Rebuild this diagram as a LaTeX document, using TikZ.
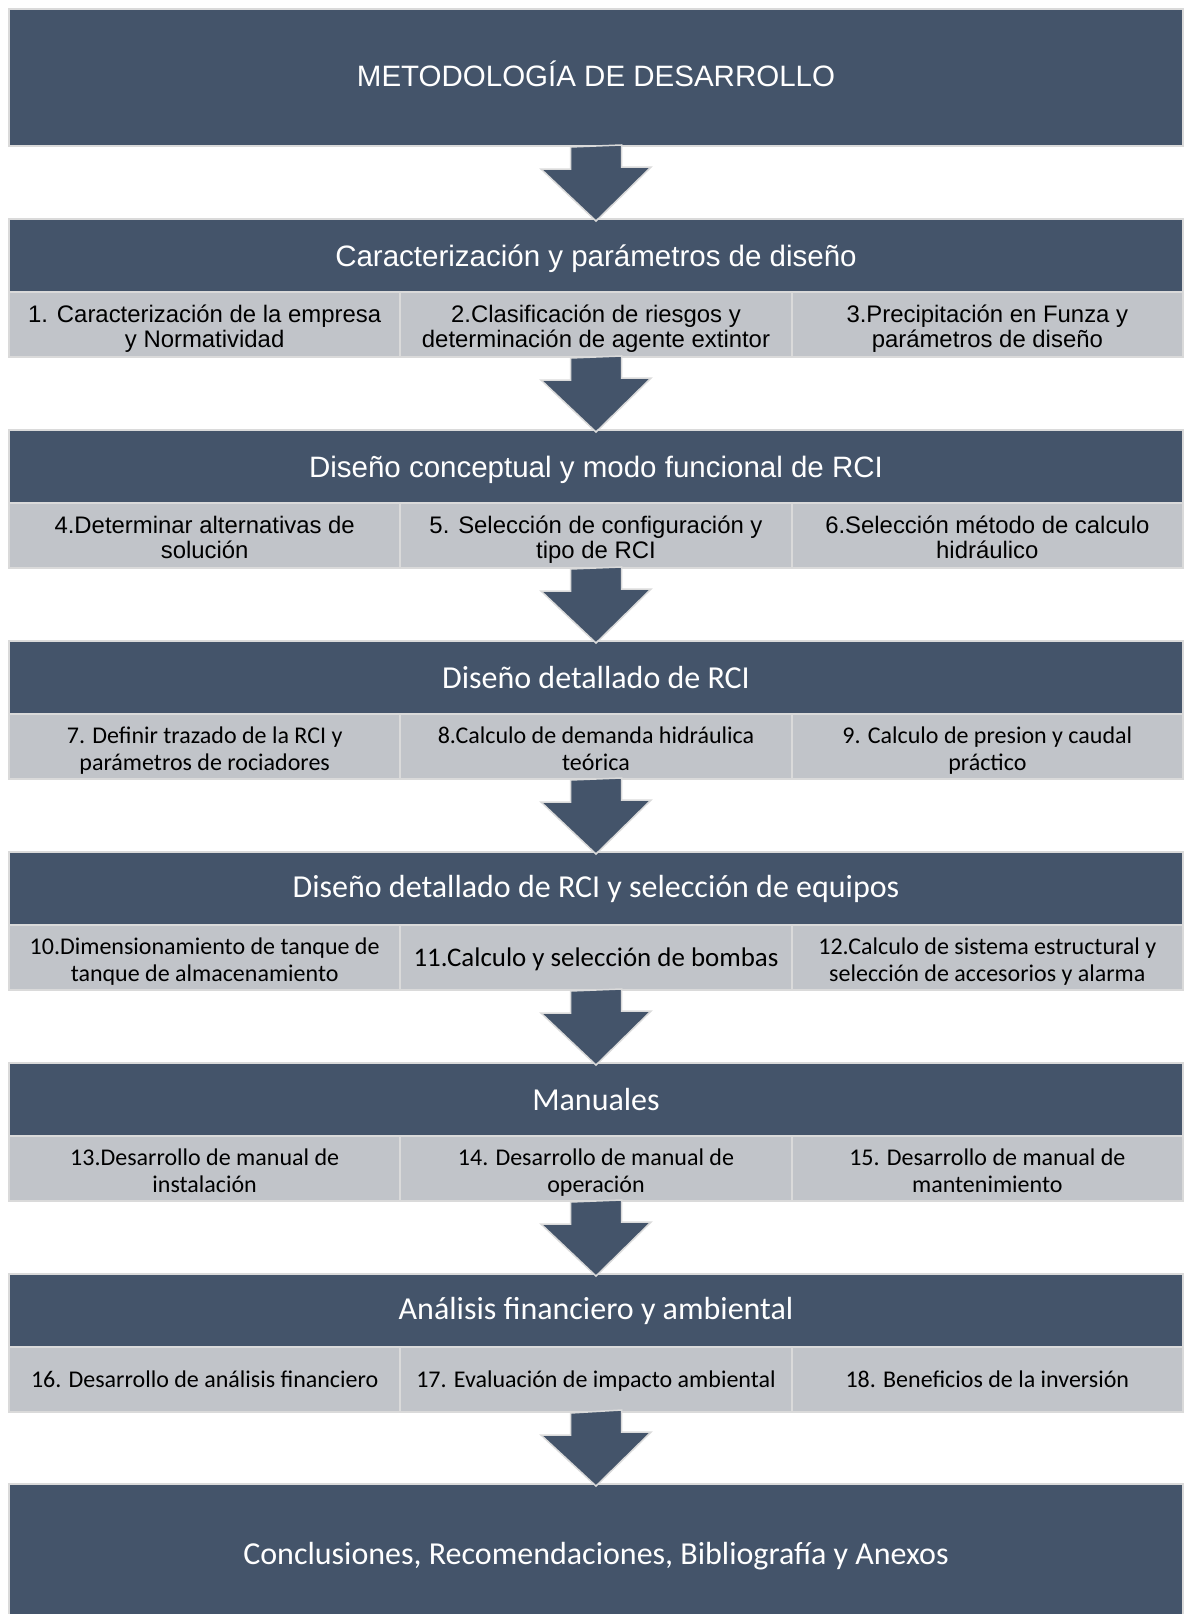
\documentclass[tikz,border=0pt]{standalone}
\usepackage{fontspec}
\setmainfont{Liberation Sans}
\newfontfamily\calibrifont{Carlito}
\usetikzlibrary{calc}
\definecolor{slate}{RGB}{68,84,106}
\definecolor{cellgray}{RGB}{193,196,201}
\definecolor{edgegray}{RGB}{218,218,218}
\newcommand{\lift}{\raisebox{5pt}{\vphantom{Á}}}
\tikzset{
  head/.style={draw=edgegray, line width=2pt, fill=slate, text=white, minimum width=1174pt, minimum height=73pt, inner sep=0pt, align=center},
  bigbox/.style={head, minimum height=137pt},
  cell/.style={draw=edgegray, line width=2pt, fill=cellgray, text=black, minimum width=391.33pt, minimum height=65pt, inner sep=0pt, align=center,
    execute at begin node={\vphantom{Áp}}, execute at end node={\vphantom{Áp}}},
  ahead/.style={font=\fontsize{29.5}{32}\selectfont, execute at begin node={\raisebox{2pt}{\vphantom{Á}}}},
  acell/.style={font=\fontsize{23.9}{25}\selectfont},
  chead/.style={font=\calibrifont\fontsize{32}{35}\selectfont},
  ccell/.style={font=\calibrifont\fontsize{24}{27}\selectfont},
  blockarr/.style={fill=slate, draw=edgegray, line width=1.5pt, line join=miter},
}
\begin{document}
\begin{tikzpicture}[x=1pt,y=-1pt]
\useasboundingbox (0,0) rectangle (1185,1614);
\clip (0,0) rectangle (1185,1614);
% title
\node[bigbox, font=\fontsize{29.5}{32}\selectfont, execute at end node={\rule[-8pt]{0pt}{1pt}}] (top) at (596,77.5) {METODOLOGÍA DE DESARROLLO};
% 1
\node[head, ahead] (s1h) at (596,255.5) {Caracterización y parámetros de diseño};
\node[cell, acell] (s1a) at (204.67,324.5) {\lift 1. Caracterización de la empresa\\y Normatividad};
\node[cell, acell] (s1b) at (596,324.5) {\lift 2.Clasificación de riesgos y\\determinación de agente extintor};
\node[cell, acell] (s1c) at (987.33,324.5) {\lift 3.Precipitación en Funza y\\parámetros de diseño};
% 2
\node[head, ahead] (s2h) at (596,466.5) {Diseño conceptual y modo funcional de RCI};
\node[cell, acell] (s2a) at (204.67,535.5) {\lift 4.Determinar alternativas de\\solución};
\node[cell, acell] (s2b) at (596,535.5) {\lift 5. Selección de configuración y\\tipo de RCI};
\node[cell, acell] (s2c) at (987.33,535.5) {\lift 6.Selección método de calculo\\hidráulico};
% 3
\node[head, chead] (s3h) at (596,677.5) {Diseño detallado de RCI};
\node[cell, ccell] (s3a) at (204.67,746.5) {\lift 7. Definir trazado de la RCI y\\parámetros de rociadores};
\node[cell, ccell] (s3b) at (596,746.5) {\lift 8.Calculo de demanda hidráulica\\teórica};
\node[cell, ccell] (s3c) at (987.33,746.5) {\lift 9. Calculo de presion y caudal\\práctico};
% 4
\node[head, chead] (s4h) at (596,888.5) {Diseño detallado de RCI y selección de equipos};
\node[cell, ccell] (s4a) at (204.67,957.5) {\lift 10.Dimensionamiento de tanque de\\tanque de almacenamiento};
\node[cell, ccell, font=\calibrifont\fontsize{26.9}{30}\selectfont] (s4b) at (596,957.5) {11.Calculo y selección de bombas};
\node[cell, ccell] (s4c) at (987.33,957.5) {\lift 12.Calculo de sistema estructural y\\selección de accesorios y alarma};
% 5
\node[head, chead] (s5h) at (596,1099.5) {Manuales};
\node[cell, ccell] (s5a) at (204.67,1168.5) {\lift 13.Desarrollo de manual de\\instalación};
\node[cell, ccell] (s5b) at (596,1168.5) {\lift 14. Desarrollo de manual de\\operación};
\node[cell, ccell] (s5c) at (987.33,1168.5) {\lift 15. Desarrollo de manual de\\mantenimiento};
% 6
\node[head, chead] (s6h) at (596,1310.5) {Análisis financiero y ambiental};
\node[cell, ccell] (s6a) at (204.67,1379.5) {16. Desarrollo de análisis financiero};
\node[cell, ccell] (s6b) at (596,1379.5) {17. Evaluación de impacto ambiental};
\node[cell, ccell] (s6c) at (987.33,1379.5) {18. Beneficios de la inversión};
% end
\node[bigbox, font=\calibrifont\fontsize{32}{36}\selectfont, execute at begin node={\raisebox{3pt}{\vphantom{Á}}}] (fin) at (596,1552.5) {Conclusiones, Recomendaciones, Bibliografía y Anexos};
% arrows
\draw[blockarr] ($(top.south)+(-25.5,0)$) -- ++(0,22) -- ++(-29.5,0) -- ($(s1h.north)+(0,3)$) -- ++(55,-54) -- ++(-29.5,0) -- ++(0,-22) -- cycle;
\draw[blockarr] ($(s1b.south)+(-25.5,0)$) -- ++(0,22) -- ++(-29.5,0) -- ($(s2h.north)+(0,3)$) -- ++(55,-54) -- ++(-29.5,0) -- ++(0,-22) -- cycle;
\draw[blockarr] ($(s2b.south)+(-25.5,0)$) -- ++(0,22) -- ++(-29.5,0) -- ($(s3h.north)+(0,3)$) -- ++(55,-54) -- ++(-29.5,0) -- ++(0,-22) -- cycle;
\draw[blockarr] ($(s3b.south)+(-25.5,0)$) -- ++(0,22) -- ++(-29.5,0) -- ($(s4h.north)+(0,3)$) -- ++(55,-54) -- ++(-29.5,0) -- ++(0,-22) -- cycle;
\draw[blockarr] ($(s4b.south)+(-25.5,0)$) -- ++(0,22) -- ++(-29.5,0) -- ($(s5h.north)+(0,3)$) -- ++(55,-54) -- ++(-29.5,0) -- ++(0,-22) -- cycle;
\draw[blockarr] ($(s5b.south)+(-25.5,0)$) -- ++(0,22) -- ++(-29.5,0) -- ($(s6h.north)+(0,3)$) -- ++(55,-54) -- ++(-29.5,0) -- ++(0,-22) -- cycle;
\draw[blockarr] ($(s6b.south)+(-25.5,0)$) -- ++(0,22) -- ++(-29.5,0) -- ($(fin.north)+(0,3)$) -- ++(55,-54) -- ++(-29.5,0) -- ++(0,-22) -- cycle;
\end{tikzpicture}
\end{document}
